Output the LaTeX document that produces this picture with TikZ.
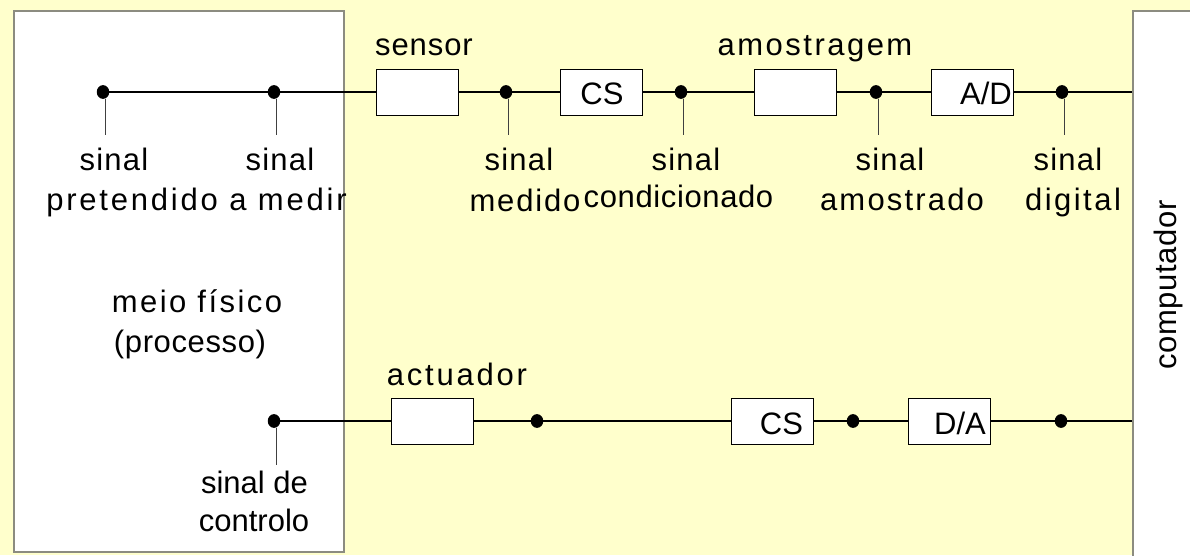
\documentclass[tikz,border=0pt]{standalone}
\usepackage{fontspec}
\setmainfont{Liberation Sans}
\definecolor{paper}{RGB}{255,255,204}
\definecolor{frame}{RGB}{140,140,128}
\newcommand{\lsp}[2]{{\addfontfeature{LetterSpace=#1}#2}}
\tikzset{
  panel/.style={draw=frame, line width=1.8pt, fill=white, anchor=north west, inner sep=0pt},
  block/.style={draw=black, line width=1pt, fill=white, minimum width=82pt, minimum height=46pt, inner sep=0pt},
  dot/.style={circle, fill=black, minimum size=12.5pt, inner sep=0pt, yscale=1.1},
  wire/.style={line width=1.1pt, black},
  tick/.style={line width=1pt, black!75},
  lbl/.style={anchor=base, inner sep=0pt, font=\fontsize{31}{36}\selectfont},
}
\begin{document}
\begin{tikzpicture}[x=1pt, y=-1pt]
\useasboundingbox (0,0) rectangle (1190,555);
\fill[paper] (0,0) rectangle (1190,555);

% physical medium and computer
\node[panel, minimum width=330pt, minimum height=541pt] (meio) at (13,10) {};
\node[panel, minimum width=80pt, minimum height=560pt] (comp) at (1132,10) {};
\node[lbl, rotate=90, anchor=center] (comptxt) at (1168,285) {\lsp{2}{computador}};
\node[lbl] (meiotxt) at (197,312) {\lsp{8}{meio físico}};
\node[lbl] (proctxt) at (190,352) {\lsp{2}{(processo)}};

% measurement chain
\node[dot] (d1) at (103,92) {};
\node[dot] (d2) at (274,92) {};
\node[block] (sensor) at (417,92) {};
\node[dot] (d3) at (506,92) {};
\node[block] (cs1) at (601.5,92) {};
\node[dot] (d4) at (681,92) {};
\node[block] (amos) at (795.5,92) {};
\node[dot] (d5) at (876,92) {};
\node[block] (ad) at (972,92) {};
\node[dot] (d6) at (1062,92) {};
\coordinate (e1) at (1132,92);

\draw[wire] (d1) -- (d2) -- (sensor.west);
\draw[wire] (sensor.east) -- (d3) -- (cs1.west);
\draw[wire] (cs1.east) -- (d4) -- (amos.west);
\draw[wire] (amos.east) -- (d5) -- (ad.west);
\draw[wire] (ad.east) -- (d6) -- (e1);

\node[lbl] (cs1txt) at (602,104) {CS};
\node[lbl, anchor=base east] (adtxt) at (1012,104) {A/D};
\node[lbl] (sensortxt) at (424,55) {\lsp{3}{sensor}};
\node[lbl] (amostxt) at (815,55) {\lsp{8}{amostragem}};

% signal names of the measurement chain
\coordinate (t1) at (105,135);
\coordinate (t2) at (276,135);
\coordinate (t3) at (508,135);
\coordinate (t4) at (683,135);
\coordinate (t5) at (878,135);
\coordinate (t6) at (1064,135);
\foreach \d/\t in {d1/t1,d2/t2,d3/t3,d4/t4,d5/t5,d6/t6}
  \draw[tick] ([xshift=2pt]\d.south) -- (\t);

\node[lbl] (s1) at (114,170) {\lsp{4}{sinal}};
\node[lbl] (s1b) at (196.5,210) {\lsp{9}{pretendido a medir}};
\node[lbl] (s2) at (280,170) {\lsp{4}{sinal}};
\node[lbl] (s3) at (519,170) {\lsp{4}{sinal}};
\node[lbl] (s3b) at (525,211) {\lsp{6}{medido}};
\node[lbl] (s4) at (686,170) {\lsp{4}{sinal}};
\node[lbl] (s4b) at (678.5,207) {\lsp{2}{condicionado}};
\node[lbl] (s5) at (890,170) {\lsp{4}{sinal}};
\node[lbl] (s5b) at (902,210) {\lsp{7}{amostrado}};
\node[lbl] (s6) at (1068,170) {\lsp{4}{sinal}};
\node[lbl] (s6b) at (1073,210) {\lsp{8}{digital}};

% actuation chain
\node[dot] (d7) at (274,421) {};
\node[block] (act) at (432.5,421) {};
\node[dot] (d8) at (537,421) {};
\node[block] (cs2) at (772,421) {};
\node[dot] (d9) at (853,421) {};
\node[block] (da) at (949.5,421) {};
\node[dot] (d10) at (1061,421) {};
\coordinate (e2) at (1132,421);

\draw[wire] (d7) -- (act.west);
\draw[wire] (act.east) -- (d8) -- (cs2.west);
\draw[wire] (cs2.east) -- (d9) -- (da.west);
\draw[wire] (da.east) -- (d10) -- (e2);

\node[lbl] (cs2txt) at (781.5,434) {CS};
\node[lbl] (datxt) at (960,434) {D/A};
\node[lbl] (acttxt) at (457,385) {\lsp{9}{actuador}};

\coordinate (t7) at (276,465);
\draw[tick] ([xshift=2pt]d7.south) -- (t7);
\node[lbl] (s7) at (254.5,493) {sinal de};
\node[lbl] (s7b) at (254,531) {controlo};
\end{tikzpicture}
\end{document}
